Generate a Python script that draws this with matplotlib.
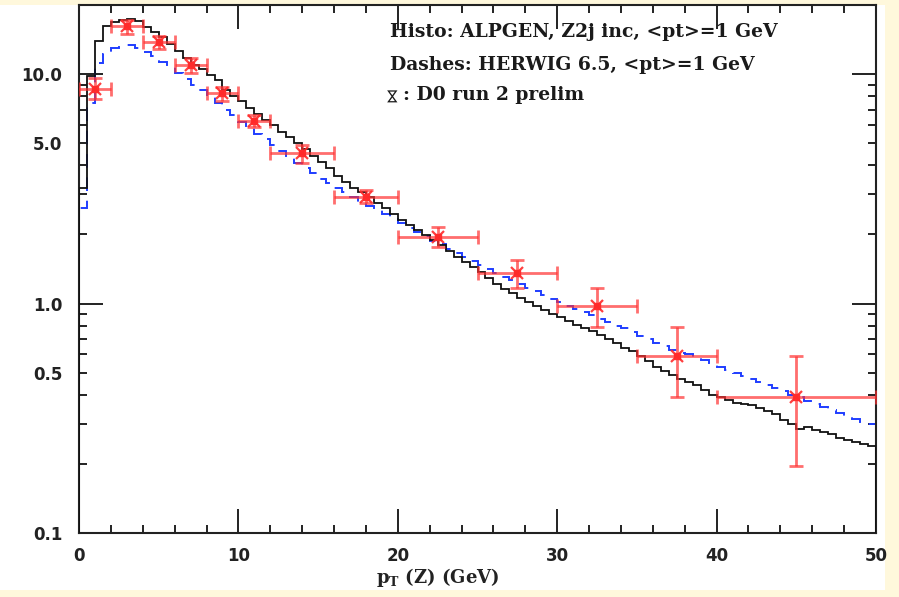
import matplotlib
matplotlib.use("Agg")
import matplotlib.pyplot as plt
import numpy as np
from matplotlib.ticker import FixedLocator, FuncFormatter
from matplotlib.patches import Rectangle

plt.rcParams['mathtext.fontset'] = 'dejavuserif'

# histogram bin edges (0.5 GeV bins)
edges = np.arange(0, 50.5, 0.5)

# ALPGEN Z2j inc (black histogram)
alpgen = [3.2, 9.8, 13.9, 16.2, 16.8, 17.2, 17.3, 17.0, 16.0, 15.2,
          14.5, 13.5, 12.6, 11.8, 11.0, 10.5, 9.9, 9.4, 8.5, 8.0,
          7.6, 7.1, 6.7, 6.3, 6.0, 5.6, 5.3, 5.0, 4.7, 4.4,
          4.15, 3.9, 3.6, 3.4, 3.2, 3.05, 2.9, 2.75, 2.6, 2.45,
          2.32, 2.2, 2.1, 1.98, 1.9, 1.8, 1.7, 1.6, 1.52, 1.44,
          1.37, 1.29, 1.22, 1.16, 1.11, 1.06, 1.02, 0.98, 0.94, 0.9,
          0.87, 0.84, 0.81, 0.78, 0.76, 0.73, 0.70, 0.67, 0.64, 0.62,
          0.59, 0.56, 0.53, 0.51, 0.49, 0.47, 0.455, 0.44, 0.42, 0.40,
          0.39, 0.38, 0.37, 0.365, 0.36, 0.35, 0.34, 0.33, 0.31, 0.30,
          0.285, 0.29, 0.28, 0.275, 0.27, 0.26, 0.255, 0.25, 0.245, 0.24]

# HERWIG 6.5 (blue dashes)
herwig = [2.6, 7.5, 11.2, 12.2, 13.0, 13.4, 13.4, 13.0, 12.5, 12.0,
          11.3, 10.7, 10.1, 9.5, 9.0, 8.5, 8.0, 7.5, 7.0, 6.6,
          6.2, 5.85, 5.5, 5.2, 4.9, 4.6, 4.35, 4.1, 3.9, 3.7,
          3.5, 3.35, 3.2, 3.05, 2.9, 2.78, 2.65, 2.55, 2.45, 2.33,
          2.24, 2.14, 2.05, 1.96, 1.88, 1.81, 1.73, 1.66, 1.6, 1.53,
          1.47, 1.41, 1.36, 1.31, 1.27, 1.22, 1.17, 1.13, 1.09, 1.05,
          1.02, 0.98, 0.95, 0.92, 0.89, 0.86, 0.83, 0.80, 0.78, 0.75,
          0.72, 0.70, 0.67, 0.65, 0.63, 0.61, 0.60, 0.58, 0.565, 0.55,
          0.53, 0.515, 0.5, 0.485, 0.47, 0.455, 0.44, 0.43, 0.415, 0.40,
          0.39, 0.375, 0.365, 0.355, 0.345, 0.335, 0.325, 0.315, 0.305, 0.30]

# D0 run 2 preliminary data
d0_pt = [1, 3, 5, 7, 9, 11, 14, 18, 22.5, 27.5, 32.5, 37.5, 45]
d0_lo = [0, 2, 4, 6, 8, 10, 12, 16, 20, 25, 30, 35, 40]
d0_hi = [2, 4, 6, 8, 10, 12, 16, 20, 25, 30, 35, 40, 50]
d0_val = [8.6, 16.2, 13.8, 11.0, 8.26, 6.24, 4.54, 2.92, 1.95, 1.36, 0.98, 0.59, 0.39]
d0_up = [9.6, 17.2, 14.7, 11.8, 8.8, 6.6, 4.9, 3.13, 2.16, 1.55, 1.17, 0.79, 0.59]
d0_dn = [7.8, 15.0, 12.9, 10.1, 7.6, 5.9, 4.1, 2.75, 1.77, 1.17, 0.79, 0.39, 0.196]

fig = plt.figure(figsize=(8.99, 5.97), dpi=100, facecolor='#fff8dc')
fig.patches.append(Rectangle((0, 0.0117), 0.9844, 0.992 - 0.0117, transform=fig.transFigure,
                             facecolor='white', edgecolor='none', zorder=-10))
ax = fig.add_axes([0.0879, 0.1072, 0.9744 - 0.0879, 0.9916 - 0.1072])
ax.set_zorder(1)

ax.stairs(herwig, edges, baseline=0.1, color='#1f3dff', lw=1.4,
          linestyle=(0, (7, 5)), zorder=2)
ax.stairs(alpgen, edges, baseline=0.1, color='#111111', lw=1.3, zorder=3)

pt = np.array(d0_pt)
val = np.array(d0_val)
xerr = [pt - np.array(d0_lo), np.array(d0_hi) - pt]
yerr = [val - np.array(d0_dn), np.array(d0_up) - val]
ax.errorbar(pt, val, xerr=xerr, yerr=yerr, fmt='none', ecolor='#ff3030',
            elinewidth=2, capsize=5, capthick=2, alpha=0.7, zorder=4)
ax.plot(pt, val, 's', color='#ff2a2a', ms=5, zorder=5, alpha=0.9)
ax.plot(pt, val, 'x', color='#ff2a2a', ms=8, mew=1.6, zorder=5, alpha=0.9)

ax.set_yscale('log')
ax.set_xlim(0, 50)
ax.set_ylim(0.1, 20)

ax.xaxis.set_major_locator(FixedLocator([0, 10, 20, 30, 40, 50]))
ax.xaxis.set_minor_locator(FixedLocator(np.arange(0, 50, 2)))
ax.yaxis.set_major_locator(FixedLocator([0.1, 1, 10]))
minor_y = [0.2, 0.3, 0.4, 0.5, 0.6, 0.7, 0.8, 0.9, 2, 3, 4, 5, 6, 7, 8, 9]
ax.yaxis.set_minor_locator(FixedLocator(minor_y))
ax.yaxis.set_major_formatter(FuncFormatter(lambda v, p: '%.1f' % v))
ax.yaxis.set_minor_formatter(FuncFormatter(
    lambda v, p: {0.5: '0.5', 5.0: '5.0'}.get(round(v, 3), '')))

ax.tick_params(which='both', direction='in', top=True, right=True, width=1.4,
               colors='#222222', labelsize=12)
ax.tick_params(which='major', length=17)
ax.tick_params(which='minor', length=6)
ax.tick_params(axis='y', which='both', pad=12)
ax.tick_params(axis='x', which='both', pad=10)
for lab in ax.get_xticklabels() + ax.get_yticklabels() + ax.get_yminorticklabels():
    lab.set_fontweight('bold')
for s in ax.spines.values():
    s.set_linewidth(1.5)
    s.set_color('#222222')

ax.text(0.45, -0.085, r'p$_{\mathbf{T}}$ (Z) (GeV)', transform=ax.transAxes,
        ha='center', va='center', family='DejaVu Serif', fontweight='bold',
        fontsize=13, color='#222222')

tfont = dict(family='DejaVu Serif', fontweight='bold', fontsize=13.5,
             color='#1a1a1a', transform=ax.transAxes, va='center', ha='left')
ax.text(0.390, 0.949, 'Histo: ALPGEN, Z2j inc, <pt>=1 GeV', **tfont)
ax.text(0.390, 0.886, 'Dashes: HERWIG 6.5, <pt>=1 GeV', **tfont)
ax.text(0.393, 0.830, '\u22c8', rotation=90, transform=ax.transAxes,
        ha='center', va='center', fontsize=11, color='#1a1a1a', family='DejaVu Sans')
ax.text(0.407, 0.830, ': D0 run 2 prelim', **tfont)

fig.savefig('out.png', dpi=100, facecolor=fig.get_facecolor())
